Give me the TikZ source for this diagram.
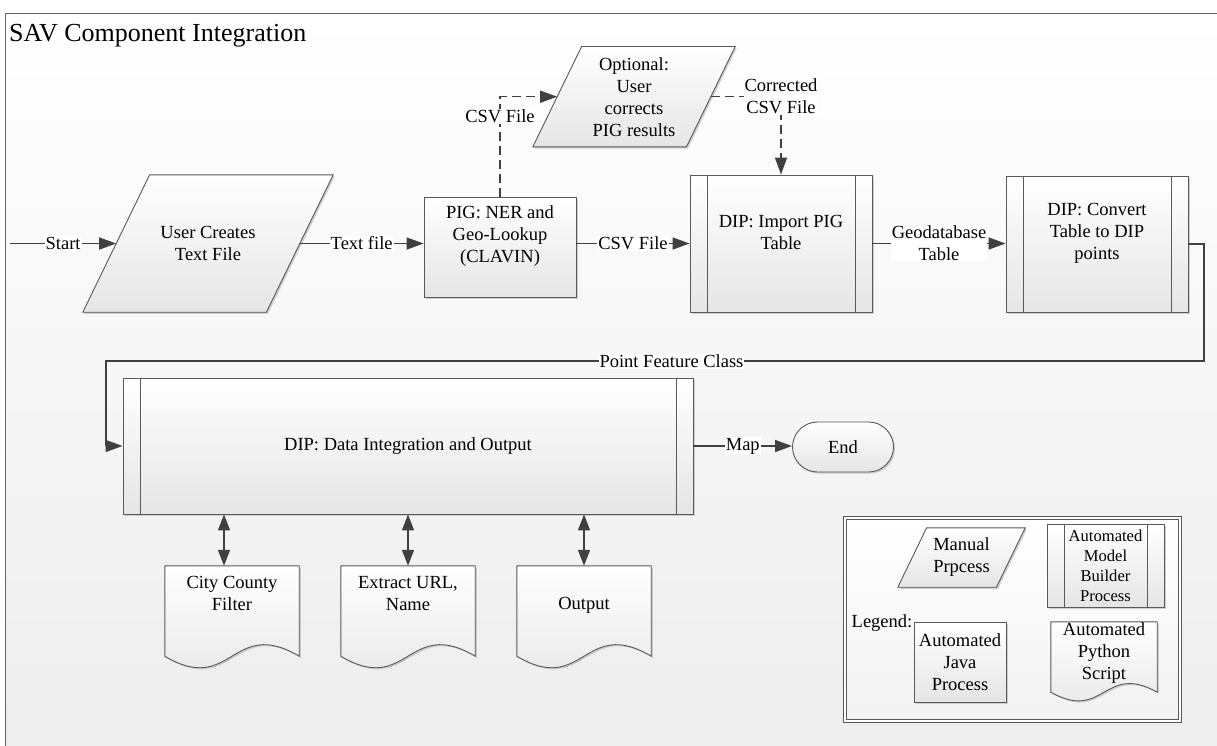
\documentclass[tikz,border=0pt]{standalone}
\usepackage{fontspec}
\setmainfont{Liberation Serif}
\usetikzlibrary{shapes.geometric,shadows,arrows.meta,calc}
\pgfdeclarelayer{back}
\pgfdeclarelayer{mid}
\pgfsetlayers{back,mid,main}
\tikzset{
 shadowed/.style={drop shadow={shadow xshift=1.6pt,shadow yshift=-1.6pt,fill=black!30,opacity=0.6}},
 shapebase/.style={draw=black!65, line width=0.9pt, top color=white, bottom color=black!10, shadowed, inner sep=0pt, align=center},
 procbox/.style={shapebase, rectangle},
 predef/.style={procbox, path picture={
   \draw[black!65, line width=0.9pt] ([xshift=17pt]path picture bounding box.north west) -- ([xshift=17pt]path picture bounding box.south west);
   \draw[black!65, line width=0.9pt] ([xshift=-17pt]path picture bounding box.north east) -- ([xshift=-17pt]path picture bounding box.south east);}},
 holder/.style={rectangle, inner sep=0pt, align=center},
 outline/.style={draw=black!65, line width=0.9pt, top color=white, bottom color=black!10, shadowed},
 conn/.style={draw=black!75, line width=1.5pt, -{Triangle[length=17pt,width=12pt]}},
 dbl/.style={draw=black!75, line width=1.5pt, {Triangle[length=16pt,width=12pt]}-{Triangle[length=16pt,width=12pt]}},
 dashconn/.style={conn, dash pattern=on 9pt off 5pt},
 lbl/.style={fill=white, inner sep=1pt, align=center},
 txt/.style={align=center, inner sep=0pt}
}
\begin{document}
\begin{tikzpicture}[x=1pt,y=-1pt,font=\fontsize{18.5}{22}\selectfont]
\useasboundingbox (0,0) rectangle (1217,745);
\begin{pgfonlayer}{back}
\path[top color=white, bottom color=black!7] (5.5,13.5) rectangle (1240,760);
\draw[black!60, line width=0.8pt] (1240,13.5) -- (5.5,13.5) -- (5.5,760);
\end{pgfonlayer}
\begin{pgfonlayer}{mid}
\node[draw=black!65, line width=0.7pt, double=white, double distance=2.4pt, top color=white, bottom color=black!5, shadowed, minimum width=335pt, minimum height=203pt, inner sep=0pt] (legend) at (1012.5,619.5) {};
\end{pgfonlayer}

% title
\node[anchor=base west, font=\fontsize{26}{30}\selectfont, inner sep=0pt] (title) at (9,41.5) {SAV Component Integration};

% top row
\node[holder, minimum width=250pt, minimum height=137pt] (ucf) at (208,243.5) {User Creates\\Text File};
\node[procbox, minimum width=152pt, minimum height=100pt] (pig) at (500,247) {};
\node[txt] (pigtext) at ([yshift=11pt]pig.center) {PIG: NER and\\Geo-Lookup\\(CLAVIN)};
\node[predef, minimum width=182pt, minimum height=137pt] (imp) at (781,243.5) {};
\node[txt] (imptext) at ([yshift=11pt]imp.center) {DIP: Import PIG\\Table};
\node[predef, minimum width=182pt, minimum height=136pt] (conv) at (1097,244) {};
\node[txt] (convtext) at ([yshift=11pt]conv.center) {DIP: Convert\\Table to DIP\\points};
\node[holder, minimum width=202pt, minimum height=100pt] (opt) at (634,96.7) {Optional:\\User\\corrects\\PIG results};

% lower row
\node[predef, minimum width=570pt, minimum height=136pt] (dip) at (408,446) {DIP: Data Integration and Output};
\node[procbox, rounded corners=25pt, minimum width=101pt, minimum height=50pt] (endn) at (843,447) {End};

\node[holder, minimum width=134pt, minimum height=90pt] (city) at (232,611) {};
\node[holder, minimum width=134pt, minimum height=90pt] (ext) at (408,611) {};
\node[holder, minimum width=134pt, minimum height=90pt] (outp) at (584,611) {};

% legend content
\node[txt] (legtitle) at (882,623) {Legend:};
\node[holder, minimum width=127pt, minimum height=59pt] (legman) at (961.5,557.5) {Manual\\Prpcess};
\node[predef, minimum width=117pt, minimum height=83pt, font=\fontsize{16.6}{20}\selectfont] (legmb) at (1105.5,565.5) {Automated\\Model\\Builder\\Process};
\node[procbox, minimum width=92pt, minimum height=80pt] (legjava) at (960,662) {Automated\\Java\\Process};
\node[holder, minimum width=106pt, minimum height=70pt] (legpy) at (1104,657) {};

% outlines of parallelograms and documents (drawn beneath the texts)
\begin{pgfonlayer}{mid}
\foreach \p/\o in {ucf/66.8,opt/48.8,legman/28.8}{
 \path[outline] (\p.south west) -- ([xshift=\o pt]\p.north west) -- (\p.north east) -- ([xshift=-\o pt]\p.south east) -- cycle;
}
\foreach \d/\a in {city/40,ext/40,outp/40,legpy/30}{
 \path[outline] (\d.north west) -- (\d.north east) -- (\d.south east)
   .. controls ($(\d.south)+(0,-\a)$) and ($(\d.south)+(0,\a)$) .. (\d.south west) -- cycle;
}
\end{pgfonlayer}
\node[txt] (citytext) at ([yshift=17.5pt]city.center) {City County\\Filter};
\node[txt] (exttext) at ([yshift=17.5pt]ext.center) {Extract URL,\\Name};
\node[txt] (outptext) at ([yshift=6pt]outp.center) {Output};
\node[txt] (legpytext) at ([yshift=4pt]legpy.center) {Automated\\Python\\Script};

% slanted-edge points of the parallelograms
\coordinate (ucfL) at ([xshift=33.4pt]ucf.west);
\coordinate (ucfR) at ([xshift=-33.4pt]ucf.east);
\coordinate (optL) at ([xshift=24.4pt]opt.west);
\coordinate (optR) at ([xshift=-24.4pt]opt.east);

% connectors
\coordinate (startpt) at (10,243.5);
\draw[conn] (startpt) -- node[lbl]{Start} (ucfL);
\draw[conn] (ucfR) -- node[lbl]{Text file} (ucfR -| pig.west);
\draw[conn] (imp.west -| pig.east) -- node[lbl]{CSV File} (imp.west);
\draw[conn] (imp.east) -- node[lbl]{Geodatabase\\Table} (imp.east -| conv.west);
\coordinate (pfcR) at (1204,361);
\coordinate (pfcL) at (106,361);
\draw[conn] (conv.east) -| (pfcR) -- node[lbl, pos=0.485]{Point Feature Class} (pfcL) |- (dip.west);
\draw[conn] (dip.east) -- node[lbl]{Map} (dip.east -| endn.west);
\draw[dashconn] (pig.north) |- node[lbl, pos=0.4]{CSV File} (optL);
\draw[dashconn] (optR) -| node[lbl, pos=0.5]{Corrected\\CSV File} (imp.north);
\draw[dbl] ([xshift=-8pt]city.north) -- ([xshift=-8pt]city.north |- dip.south);
\draw[dbl] (ext.north) -- (ext.north |- dip.south);
\draw[dbl] (outp.north) -- (outp.north |- dip.south);
\end{tikzpicture}
\end{document}
